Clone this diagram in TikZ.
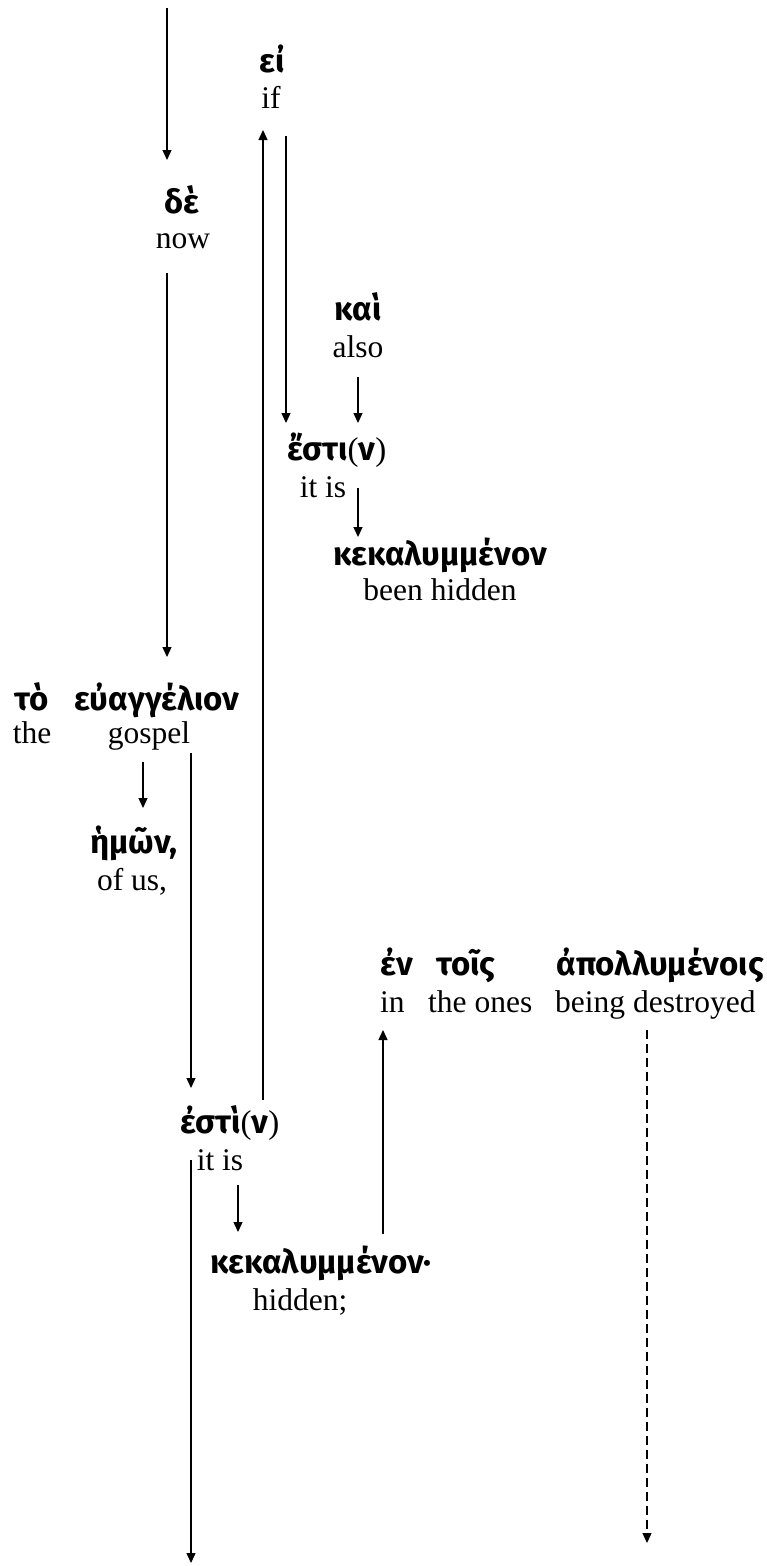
\documentclass[tikz,border=0pt]{standalone}
\usepackage{fontspec}
\setmainfont{Liberation Serif}
\newfontfamily\gr[Script=Greek]{Fira Sans}
\usetikzlibrary{arrows.meta}
\tikzset{
  grk/.style={inner sep=0pt, anchor=base, font=\gr\bfseries\fontsize{33}{33}\selectfont},
  eng/.style={inner sep=0pt, anchor=base, font=\fontsize{31.5}{31.5}\selectfont},
  arr/.style={line width=1.3pt, -{Triangle[length=10pt,width=9pt]}},
  darr/.style={arr, dash pattern=on 9pt off 5pt}
}
\newcommand{\rp}[1]{{\rmfamily\mdseries #1}}
\begin{document}
\begin{tikzpicture}[x=1pt,y=-1pt]
\useasboundingbox (0,0) rectangle (766,1566);
% words
\node[grk] (ei) at (272,72) {εἰ};
\node[eng] (if) at (271,108) {if};
\node[grk] (de) at (182,213) {δὲ};
\node[eng] (now) at (183,248) {now};
\node[grk] (kai) at (358,320) {καὶ};
\node[eng] (also) at (358,357) {also};
\node[grk] (estiA) at (337,460) {ἔστι\rp{(}ν\rp{)}};
\node[eng] (itisA) at (323,497) {it is};
\node[grk] (kekA) at (440,565) {κεκαλυμμένον};
\node[eng] (beenhidden) at (440,600) {been hidden};
\node[grk] (to) at (32,710) {τὸ};
\node[grk] (euang) at (157,710) {εὐαγγέλιον};
\node[eng] (the) at (32,743) {the};
\node[eng] (gospel) at (149,743) {gospel};
\node[grk] (hemon) at (134,853) {ἡμῶν,};
\node[eng] (ofus) at (132,890) {of us,};
\node[grk, anchor=base west] (en) at (380,975) {ἐν};
\node[grk, anchor=base west] (tois) at (436,975) {τοῖς};
\node[grk, anchor=base east] (apoll) at (764,975) {ἀπολλυμένοις};
\node[eng, anchor=base west] (in) at (380,1012) {in};
\node[eng, anchor=base west] (theones) at (428,1012) {the ones};
\node[eng, anchor=base west] (beingd) at (555,1012) {being destroyed};
\node[grk] (estiB) at (230,1133) {ἐστὶ\rp{(}ν\rp{)}};
\node[eng] (itisB) at (220,1170) {it is};
\node[grk] (kekB) at (321,1273) {κεκαλυμμένον·};
\node[eng] (hidden) at (300,1310) {hidden;};
% connector ends
\coordinate (c1a) at (167,8);    \coordinate (c1b) at (167,160);
\coordinate (c2a) at (263,1100); \coordinate (c2b) at (263,130);
\coordinate (c3a) at (286,136);  \coordinate (c3b) at (286,423);
\coordinate (c4a) at (167,273);  \coordinate (c4b) at (167,657);
\coordinate (c5a) at (358,377);  \coordinate (c5b) at (358,423);
\coordinate (c6a) at (358,488);  \coordinate (c6b) at (358,537);
\coordinate (c7a) at (143,762);  \coordinate (c7b) at (143,808);
\coordinate (c8a) at (191,753);  \coordinate (c8b) at (191,1088);
\coordinate (c9a) at (383,1234); \coordinate (c9b) at (383,1030);
\coordinate (c10a) at (647,1030); \coordinate (c10b) at (647,1543);
\coordinate (c11a) at (238,1185); \coordinate (c11b) at (238,1232);
\coordinate (c12a) at (191,1160); \coordinate (c12b) at (191,1563);
% connectors
\draw[arr] (c1a) -- (c1b);
\draw[arr] (c2a) -- (c2b);
\draw[arr] (c3a) -- (c3b);
\draw[arr] (c4a) -- (c4b);
\draw[arr] (c5a) -- (c5b);
\draw[arr] (c6a) -- (c6b);
\draw[arr] (c7a) -- (c7b);
\draw[arr] (c8a) -- (c8b);
\draw[arr] (c9a) -- (c9b);
\draw[darr] (c10a) -- (c10b);
\draw[arr] (c11a) -- (c11b);
\draw[arr] (c12a) -- (c12b);
\end{tikzpicture}
\end{document}
